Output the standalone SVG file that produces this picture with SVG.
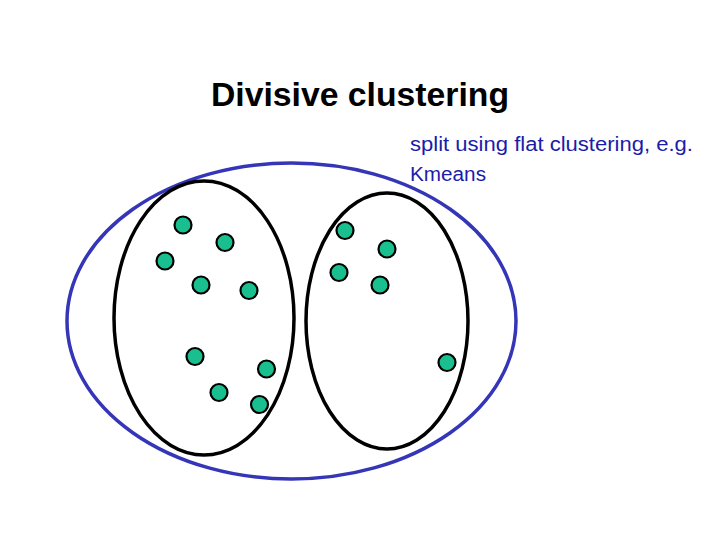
<svg xmlns="http://www.w3.org/2000/svg" width="720" height="540" viewBox="0 0 720 540">
<style>
.dot{fill:#19bf8e;stroke:#000;stroke-width:2.2}
.cl{fill:none;stroke:#000;stroke-width:3.5}
.title{font-family:"Liberation Sans",Arial,sans-serif;font-weight:bold;font-size:34px;fill:#000}
.note{font-family:"Liberation Sans",Arial,sans-serif;font-size:19.5px;fill:#1c1ca8}
</style>
<rect width="720" height="540" fill="#fff"/>
<text class="title" x="211" y="106" textLength="298" lengthAdjust="spacingAndGlyphs">Divisive clustering</text>
<g id="outer">
<ellipse cx="291.5" cy="321" rx="224.5" ry="158" fill="none" stroke="#3535b8" stroke-width="3.5"/>
</g>
<g id="cluster-left">
<ellipse class="cl" cx="204" cy="318" rx="90" ry="137"/>
</g>
<g id="cluster-right">
<ellipse class="cl" cx="387" cy="321" rx="81" ry="128"/>
</g>
<g id="label">
<text class="note" x="410" y="151" textLength="283" lengthAdjust="spacingAndGlyphs">split using flat clustering, e.g.</text>
<text class="note" x="410" y="181" textLength="76" lengthAdjust="spacingAndGlyphs">Kmeans</text>
</g>
<g id="points">
<circle class="dot" cx="183" cy="225" r="8.5"/>
<circle class="dot" cx="225" cy="242.5" r="8.5"/>
<circle class="dot" cx="165" cy="261" r="8.5"/>
<circle class="dot" cx="201" cy="285" r="8.5"/>
<circle class="dot" cx="249" cy="290.5" r="8.5"/>
<circle class="dot" cx="195" cy="356.5" r="8.5"/>
<circle class="dot" cx="266.5" cy="369" r="8.5"/>
<circle class="dot" cx="219" cy="392.5" r="8.5"/>
<circle class="dot" cx="259.5" cy="404.5" r="8.5"/>
<circle class="dot" cx="345" cy="230.5" r="8.5"/>
<circle class="dot" cx="387" cy="249" r="8.5"/>
<circle class="dot" cx="339" cy="272.5" r="8.5"/>
<circle class="dot" cx="380" cy="285" r="8.5"/>
<circle class="dot" cx="447" cy="362.5" r="8.5"/>
</g>
</svg>
